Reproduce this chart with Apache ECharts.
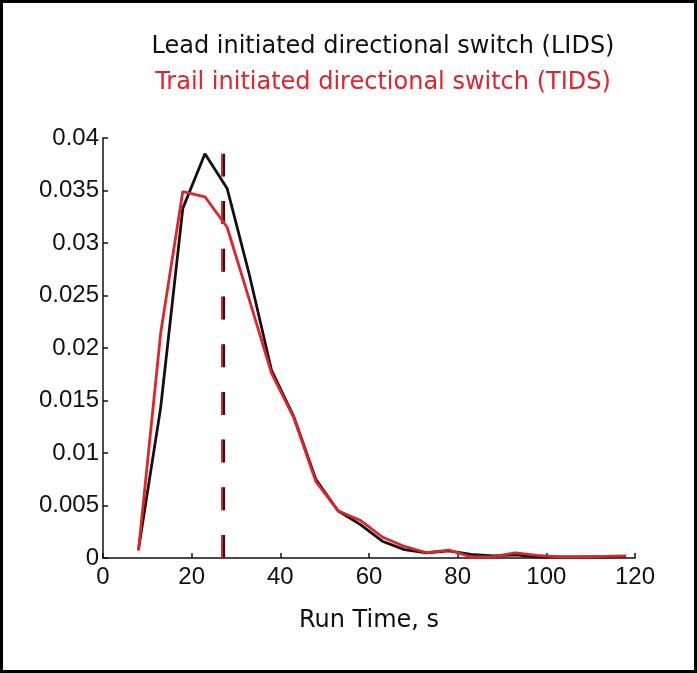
<!DOCTYPE html>
<html>
<head>
<meta charset="utf-8">
<script src="https://cdn.jsdelivr.net/npm/echarts@6/dist/echarts.min.js"></script>
<style>
  html, body { margin: 0; padding: 0; background: #fff; }
  #chart { width: 697px; height: 673px; }
</style>
</head>
<body>
<div id="chart"></div>
<script>
// ---- data ----
const runTime = [8, 13, 18, 23, 28, 33, 38, 43, 48, 53, 58, 63, 68, 73, 78, 83, 88, 93, 98, 103, 108, 113, 118];
const lids = [0.0008, 0.0143, 0.0333, 0.0385, 0.0352, 0.0270, 0.0179, 0.0135, 0.0075, 0.0045, 0.0032, 0.0016, 0.0008, 0.0005, 0.00067, 0.00035, 0.0002, 0.0003, 0.0001, 0.0001, 0.0001, 0.0001, 0.00015];
const tids = [0.0007, 0.0214, 0.0349, 0.0344, 0.0315, 0.0246, 0.0176, 0.0134, 0.0073, 0.0045, 0.0036, 0.0020, 0.0011, 0.0005, 0.00076, 0.0001, 0.00012, 0.00048, 0.00025, 0.0001, 0.00012, 0.00015, 0.0002];
const lidsMean = 27.3;
const tidsMean = 26.95;
const xTicks = [0, 20, 40, 60, 80, 100, 120];
const yTicks = [0, 0.005, 0.01, 0.015, 0.02, 0.025, 0.03, 0.035, 0.04];
const titleLids = 'Lead initiated directional switch (LIDS)';
const titleTids = 'Trail initiated directional switch (TIDS)';
const xName = 'Run Time, s';

const BLACK = '#111111';
const RED = '#e2232a';
const numFont = "'Liberation Sans', Arial, Helvetica, sans-serif";
const txtFont = "'DejaVu Sans', Verdana, sans-serif";

const pair = (xs, ys) => xs.map((x, i) => [x, ys[i]]);
const lineTop = Math.max(...lids);

const chart = echarts.init(document.getElementById('chart'), null, { renderer: 'canvas' });
chart.setOption({
  backgroundColor: '#ffffff',
  animation: false,
  graphic: [
    { type: 'rect', shape: { x: 1.5, y: 1.5, width: 694, height: 670 }, style: { fill: 'none', stroke: '#000', lineWidth: 3 }, z: 100 },
    { type: 'text', x: 383, y: 47, style: { text: titleLids, font: "24px " + txtFont, fill: BLACK, textAlign: 'center', textVerticalAlign: 'middle' } },
    { type: 'text', x: 383, y: 83, style: { text: titleTids, font: "24px " + txtFont, fill: RED, textAlign: 'center', textVerticalAlign: 'middle' } }
  ],
  grid: { left: 103, right: 62, top: 138, bottom: 115, containLabel: false },
  xAxis: {
    type: 'value', min: 0, max: 120, interval: 20,
    name: xName, nameLocation: 'middle', nameGap: 51,
    nameTextStyle: { fontFamily: txtFont, fontSize: 24, color: BLACK },
    axisLine: { show: true, lineStyle: { color: BLACK, width: 1.5 } },
    axisTick: { show: true, inside: true, length: 5, lineStyle: { color: BLACK, width: 1.5 } },
    axisLabel: { fontFamily: numFont, fontSize: 24, color: BLACK, margin: 7, showMinLabel: true, showMaxLabel: true,
      formatter: v => { const t = xTicks.find(t => Math.abs(t - v) < 1e-9); return t === undefined ? '' : String(t); } },
    splitLine: { show: false }
  },
  yAxis: {
    type: 'value', min: 0, max: 0.04, interval: 0.005,
    axisLine: { show: true, lineStyle: { color: BLACK, width: 1.5 } },
    axisTick: { show: true, inside: true, length: 5, lineStyle: { color: BLACK, width: 1.5 } },
    axisLabel: { fontFamily: numFont, fontSize: 24, color: BLACK, margin: 4,
      formatter: v => { const t = yTicks.find(t => Math.abs(t - v) < 1e-9); return t === undefined ? '' : String(t); } },
    splitLine: { show: false }
  },
  series: [
    {
      type: 'line', data: [[tidsMean, 0], [tidsMean, lineTop]], symbol: 'none', silent: true,
      lineStyle: { color: RED, width: 3, type: [23, 24.7] }, z: 2
    },
    {
      type: 'line', data: [[lidsMean, 0], [lidsMean, lineTop]], symbol: 'none', silent: true,
      lineStyle: { color: '#2a1515', width: 2.2, type: [23, 24.7] }, z: 3
    },
    {
      name: 'LIDS', type: 'line', data: pair(runTime, lids), symbol: 'none',
      lineStyle: { color: BLACK, width: 2.8 }, z: 4
    },
    {
      name: 'TIDS', type: 'line', data: pair(runTime, tids), symbol: 'none',
      lineStyle: { color: RED, width: 2.8 }, z: 5
    }
  ]
});
</script>
</body>
</html>
